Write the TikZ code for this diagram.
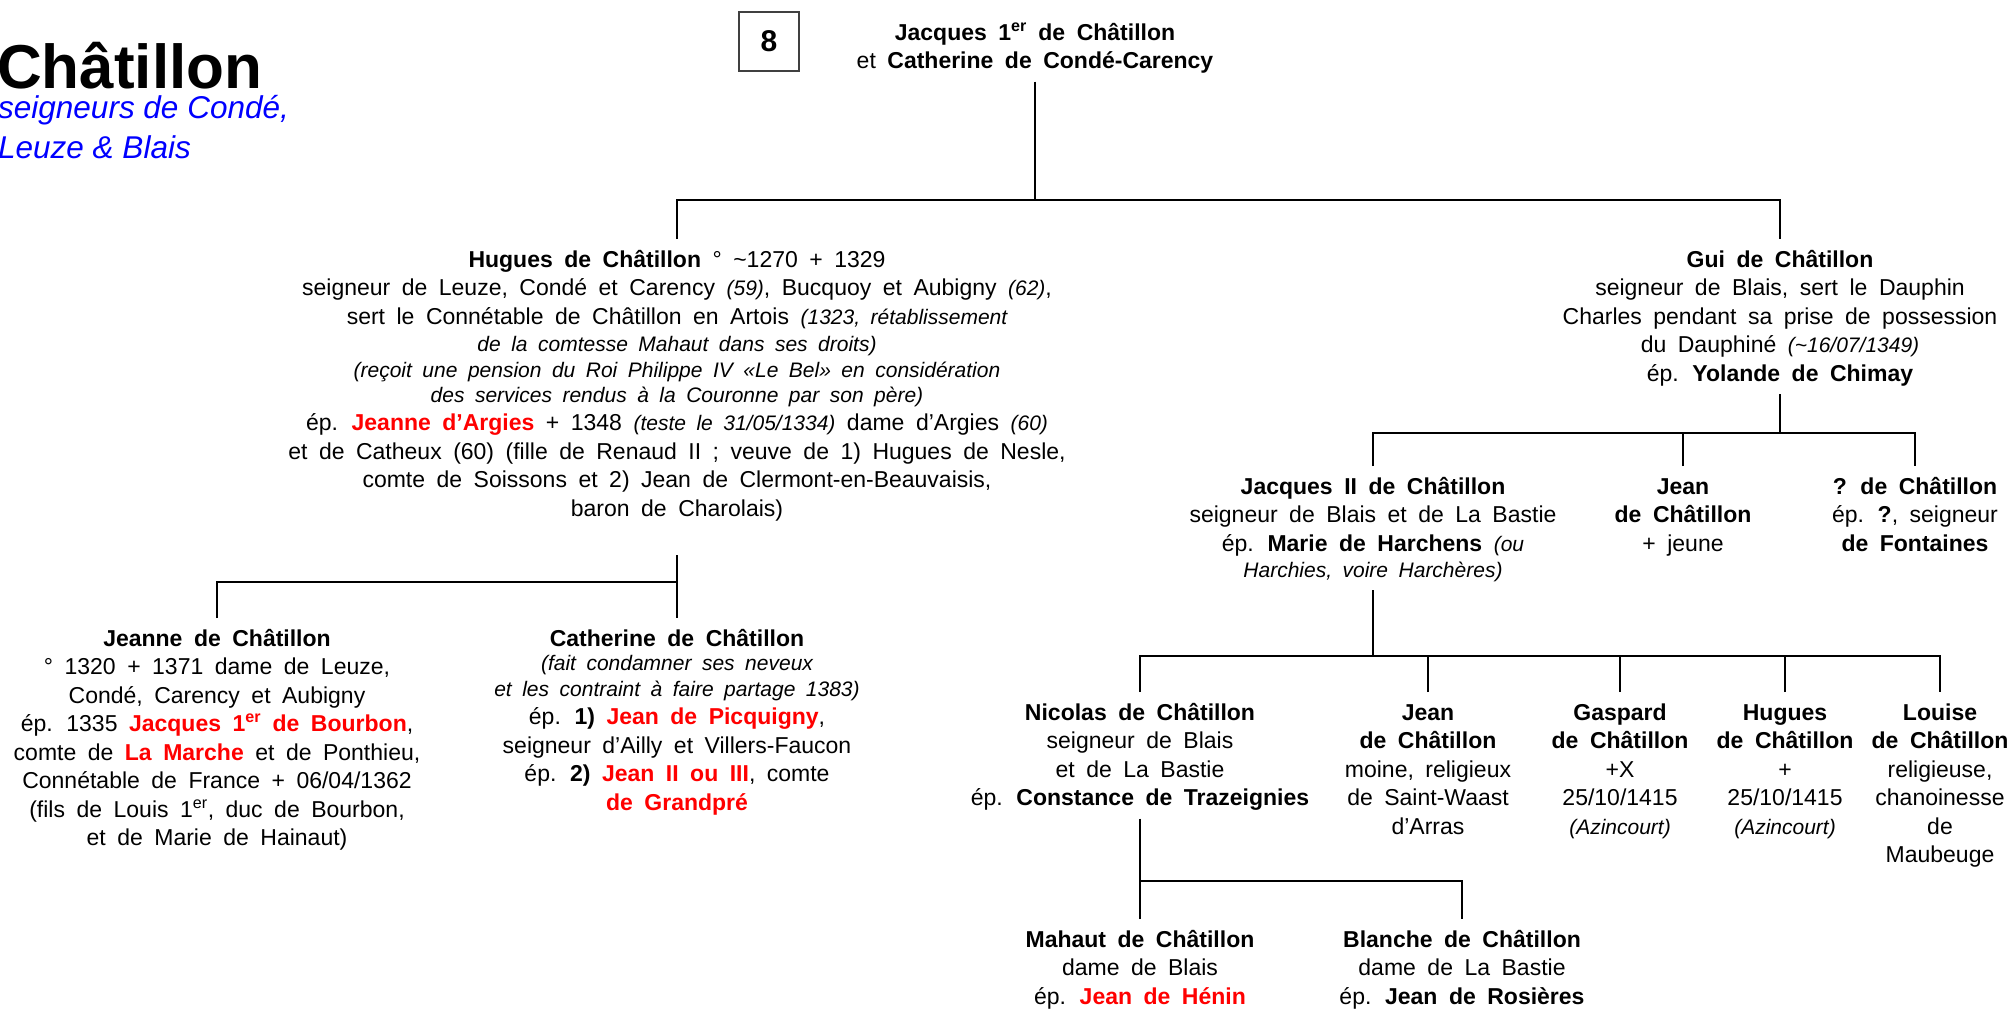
\documentclass[tikz,border=0pt]{standalone}
\usepackage{fontspec}
\setmainfont{Liberation Sans}[WordSpace=1.8]
\newfontfamily\titrefont{Liberation Sans}
\usepackage{tikz}
\definecolor{rouge}{RGB}{255,0,0}
\definecolor{bleu}{RGB}{0,0,255}
\newcommand{\nom}[1]{\strut\textbf{#1}}
\newcommand{\rouge}[1]{\textcolor{rouge}{\textbf{#1}}}
\newcommand{\petit}[1]{{\fontsize{21}{28.5}\selectfont\itshape #1}}
\tikzset{
  pers/.style={font=\fontsize{23}{28.5}\selectfont, align=center, anchor=north,
    inner xsep=0pt, inner ysep=8pt},
  lien/.style={line width=2.8pt, black}
}

\begin{document}
\begin{tikzpicture}[x=1pt, y=-1pt]
        \useasboundingbox (0,0) rectangle (2015,1010);

        \node[anchor=base west, inner sep=0pt, font=\titrefont\fontsize{62}{70}\selectfont\bfseries] (titre) at (-3,88) {Châtillon};
        \node[anchor=north west, inner sep=0pt, align=left, text=bleu, font=\titrefont\fontsize{31.5}{40}\selectfont\itshape] (soustitre) at (-2,95) {seigneurs de Condé,\\Leuze \& Blais};
        \node[draw=black!75, line width=1.3pt, minimum width=60, minimum height=59, font=\fontsize{30}{34}\selectfont\bfseries] (num) at (769,41.5) {8};

        \node[pers] (top) at (1035,12) {\nom{Jacques 1\textsuperscript{er} de Châtillon}\\et \textbf{Catherine de Condé-Carency}};

        \node[pers] (hugues) at (677,239) {\nom{Hugues de Châtillon} ° \textasciitilde1270 + 1329\\
            seigneur de Leuze, Condé et Carency \petit{(59)}, Bucquoy et Aubigny \petit{(62)},\\
            sert le Connétable de Châtillon en Artois \petit{(1323, rétablissement}\\[-1.5pt]
            \petit{de la comtesse Mahaut dans ses droits)}\\[-2.5pt]
            \petit{(reçoit une pension du Roi Philippe IV «Le Bel» en considération}\\[-3.5pt]
            \petit{des services rendus à la Couronne par son père)}\\
            ép. \rouge{Jeanne d’Argies} + 1348 \petit{(teste le 31/05/1334)} dame d’Argies \petit{(60)}\\
            et de Catheux (60) (fille de Renaud II ; veuve de 1) Hugues de Nesle,\\
            comte de Soissons et 2) Jean de Clermont-en-Beauvaisis,\\
            baron de Charolais)};
        \node[pers] (gui) at (1780,239) {\nom{Gui de Châtillon}\\
            seigneur de Blais, sert le Dauphin\\
            Charles pendant sa prise de possession\\
            du Dauphiné \petit{(\textasciitilde16/07/1349)}\\
            ép. \textbf{Yolande de Chimay}};

        \node[pers] (jeanne) at (217,618) {\nom{Jeanne de Châtillon}\\
            ° 1320 + 1371 dame de Leuze,\\
            Condé, Carency et Aubigny\\
            ép. 1335 \rouge{Jacques 1\textsuperscript{er} de Bourbon},\\
            comte de \rouge{La Marche} et de Ponthieu,\\
            Connétable de France + 06/04/1362\\
            (fils de Louis 1\textsuperscript{er}, duc de Bourbon,\\
            et de Marie de Hainaut)};
        \node[pers] (cath) at (677,618) {\nom{Catherine de Châtillon}\\[-4.5pt]
            \petit{(fait condamner ses neveux}\\[-2.5pt]
            \petit{et les contraint à faire partage 1383)}\\
            ép. \textbf{1)} \rouge{Jean de Picquigny},\\
            seigneur d’Ailly et Villers-Faucon\\
            ép. \textbf{2)} \rouge{Jean II ou III}, comte\\
            \rouge{de Grandpré}};

        \node[pers] (jacq2) at (1373,466) {\nom{Jacques II de Châtillon}\\
            seigneur de Blais et de La Bastie\\
            ép. \textbf{Marie de Harchens} \petit{(ou}\\[-2pt]
            \petit{Harchies, voire Harchères)}};
        \node[pers] (jean1) at (1683,466) {\nom{Jean}\\\textbf{de Châtillon}\\+ jeune};
        \node[pers] (inconnu) at (1915,466) {\nom{? de Châtillon}\\ép. \textbf{?}, seigneur\\\textbf{de Fontaines}};

        \node[pers] (nicolas) at (1140,692) {\nom{Nicolas de Châtillon}\\seigneur de Blais\\et de La Bastie\\ép. \textbf{Constance de Trazeignies}};
        \node[pers] (jean2) at (1428,692) {\nom{Jean}\\\textbf{de Châtillon}\\moine, religieux\\de Saint-Waast\\d’Arras};
        \node[pers] (gaspard) at (1620,692) {\nom{Gaspard}\\\textbf{de Châtillon}\\+X\\25/10/1415\\\petit{(Azincourt)}};
        \node[pers] (hugues2) at (1785,692) {\nom{Hugues}\\\textbf{de Châtillon}\\+\\25/10/1415\\\petit{(Azincourt)}};
        \node[pers] (louise) at (1940,692) {\nom{Louise}\\\textbf{de Châtillon}\\religieuse,\\chanoinesse\\de\\Maubeuge};

        \node[pers] (mahaut) at (1140,919) {\nom{Mahaut de Châtillon}\\dame de Blais\\ép. \rouge{Jean de Hénin}};
        \node[pers] (blanche) at (1462,919) {\nom{Blanche de Châtillon}\\dame de La Bastie\\ép. \textbf{Jean de Rosières}};

        \coordinate (b0) at (1035,200);
        \coordinate (b1) at (677,582);
        \coordinate (b2) at (1780,433);
        \coordinate (b3) at (1373,656);
        \coordinate (b4) at (1140,881);

        \draw[lien] (top.south) -- (b0);
        \draw[lien] (hugues.north) |- (b0) -| (gui.north);

        \draw[lien, shorten <=26pt] (hugues.south) -- (cath.north);
        \draw[lien] (jeanne.north) |- (b1);

        \draw[lien] (gui.south) -- (b2);
        \draw[lien] (jacq2.north) |- (b2) -| (inconnu.north);
        \draw[lien] (jean1.north) -- (jean1.north |- b2);

        \draw[lien] (jacq2.south) -- (b3);
        \draw[lien] (nicolas.north) |- (b3) -| (louise.north);
        \foreach \e in {jean2,gaspard,hugues2} {
            \draw[lien] (\e.north) -- (\e.north |- b3);
        }

        \draw[lien] (nicolas.south) -- (b4);
        \draw[lien] (mahaut.north) |- (b4) -| (blanche.north);
\end{tikzpicture}
\end{document}
